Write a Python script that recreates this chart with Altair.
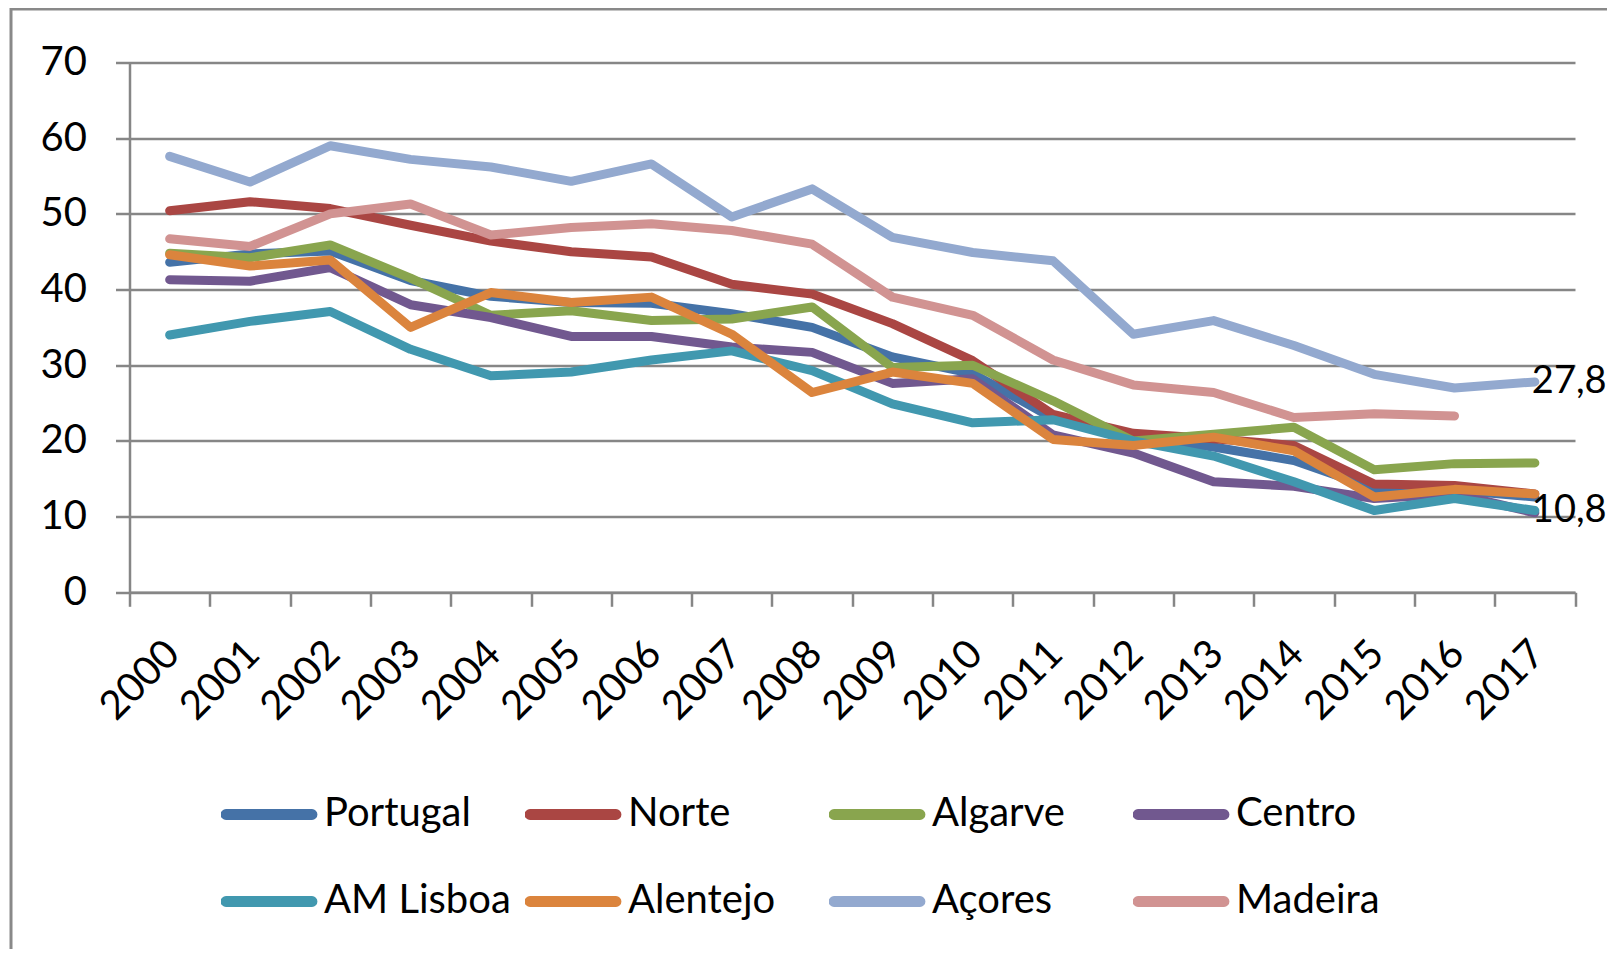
import altair as alt
import pandas as pd

years = [str(y) for y in range(2000, 2018)]
series_names = ["Portugal", "Norte", "Algarve", "Centro", "AM Lisboa", "Alentejo", "Açores", "Madeira"]
colors = ["#4572A7", "#AA4643", "#89A54E", "#71588F", "#4198AF", "#DB843D", "#93A9CF", "#D19392"]

portugal = [43.6, 44.7, 45.1, 41.2, 39.1, 38.3, 38.2, 36.8, 35.0, 31.1, 28.9, 23.0, 20.4, 19.2, 17.4, 13.7, 13.5, 12.6]
norte = [50.4, 51.6, 50.7, 48.5, 46.4, 45.0, 44.3, 40.7, 39.4, 35.5, 30.6, 23.5, 21.0, 20.3, 19.4, 14.3, 14.1, 13.0]
algarve = [44.8, 44.2, 45.9, 41.5, 36.6, 37.2, 35.9, 36.1, 37.7, 29.7, 30.0, 25.3, 20.0, 20.9, 21.8, 16.2, 17.0, 17.1]
centro = [41.3, 41.1, 42.9, 38.0, 36.3, 33.8, 33.8, 32.4, 31.7, 27.6, 28.2, 20.8, 18.4, 14.6, 14.0, 12.4, 13.0, 10.5]
am_lisboa = [34.0, 35.8, 37.1, 32.1, 28.6, 29.1, 30.7, 31.9, 29.3, 24.9, 22.4, 22.8, 20.0, 18.0, 14.6, 10.8, 12.4, 10.8]
alentejo = [44.6, 43.1, 43.9, 35.0, 39.6, 38.3, 39.0, 34.1, 26.4, 29.1, 27.6, 20.2, 19.4, 20.5, 18.7, 12.6, 13.6, 13.0]
acores = [57.6, 54.2, 59.0, 57.2, 56.2, 54.3, 56.6, 49.6, 53.3, 46.9, 44.9, 43.8, 34.1, 35.9, 32.6, 28.8, 27.0, 27.8]
madeira = [46.7, 45.7, 50.0, 51.3, 47.2, 48.2, 48.7, 47.8, 46.0, 39.0, 36.6, 30.7, 27.4, 26.4, 23.1, 23.6, 23.3, None]

labelled_series = ["Açores", "AM Lisboa"]
y_ticks = [0, 10, 20, 30, 40, 50, 60, 70]

series_values = [portugal, norte, algarve, centro, am_lisboa, alentejo, acores, madeira]
rows = []
for name, vals in zip(series_names, series_values):
    for yr, v in zip(years, vals):
        if v is not None:
            rows.append({"year": yr, "series": name, "value": v})
df = pd.DataFrame(rows)

FONT = "Lato"
GRID = "#868686"

x_enc = alt.X(
    "year:N",
    sort=years,
    scale=alt.Scale(type="band", paddingInner=0, paddingOuter=0),
    axis=alt.Axis(
        title=None,
        labelAngle=-45,
        labelAlign="right",
        labelBaseline="middle",
        labelFont=FONT,
        labelFontSize=40,
        labelColor="black",
        labelPadding=41,
        labelOffset=3,
        labelOverlap=False,
        tickBand="extent",
        tickSize=14,
        tickWidth=2.5,
        tickColor=GRID,
        domainColor=GRID,
        domainWidth=2.5,
        grid=False,
    ),
)
y_enc = alt.Y(
    "value:Q",
    scale=alt.Scale(domain=[0, 70], nice=False),
    axis=alt.Axis(
        title=None,
        values=y_ticks,
        labelFont=FONT,
        labelFontSize=40,
        labelColor="black",
        labelPadding=29,
        tickSize=14,
        tickWidth=2.5,
        tickColor=GRID,
        domainColor=GRID,
        domainWidth=2.5,
        grid=True,
        gridColor=GRID,
        gridWidth=2.5,
    ),
)

pill = "M-1,-0.01L1,-0.01A0.01,0.01,0,0,1,1,0.01L-1,0.01A0.01,0.01,0,0,1,-1,-0.01Z"

lines = alt.Chart(df).mark_line(strokeWidth=9, strokeCap="round", strokeJoin="round").encode(
    x=x_enc,
    y=y_enc,
    color=alt.Color(
        "series:N",
        sort=series_names,
        scale=alt.Scale(domain=series_names, range=colors),
        legend=alt.Legend(
            title=None,
            orient="none",
            direction="horizontal",
            legendX=91.5,
            legendY=732,
            columns=4,
            gridAlign="all",
            columnPadding=14,
            rowPadding=47,
            clipHeight=40,
            padding=0,
            symbolType=pill,
            symbolSize=7396,
            symbolStrokeWidth=10,
            labelFont=FONT,
            labelFontSize=40,
            labelColor="black",
            labelOffset=7,
            labelLimit=500,
        ),
    ),
)

labels = (
    alt.Chart(df)
    .transform_filter(alt.FieldEqualPredicate(field="year", equal=years[-1]))
    .transform_filter(alt.FieldOneOfPredicate(field="series", oneOf=labelled_series))
    .transform_calculate(txt="replace(format(datum.value, '.1f'), '.', ',')")
    .mark_text(align="left", baseline="middle", dx=-3, font=FONT, fontSize=38, color="black")
    .encode(x=alt.X("year:N", sort=years), y="value:Q", text="txt:N")
)

border = (
    alt.Chart(pd.DataFrame({"k": [0]}))
    .mark_rect(fillOpacity=0, stroke="#898989", strokeWidth=3)
    .encode(x=alt.value(-118.5), x2=alt.value(1700), y=alt.value(-53.5), y2=alt.value(1100))
)

chart = (
    alt.layer(border, lines, labels)
    .properties(
        width=1445.5,
        height=529.8,
        autosize=alt.AutoSizeParams(type="none"),
        padding={"left": 121.5, "top": 54.5, "right": 32, "bottom": 357},
        background="white",
    )
    .configure_view(stroke=None)
)

chart.save("out.html", embed_options={"renderer": "svg", "actions": False})
